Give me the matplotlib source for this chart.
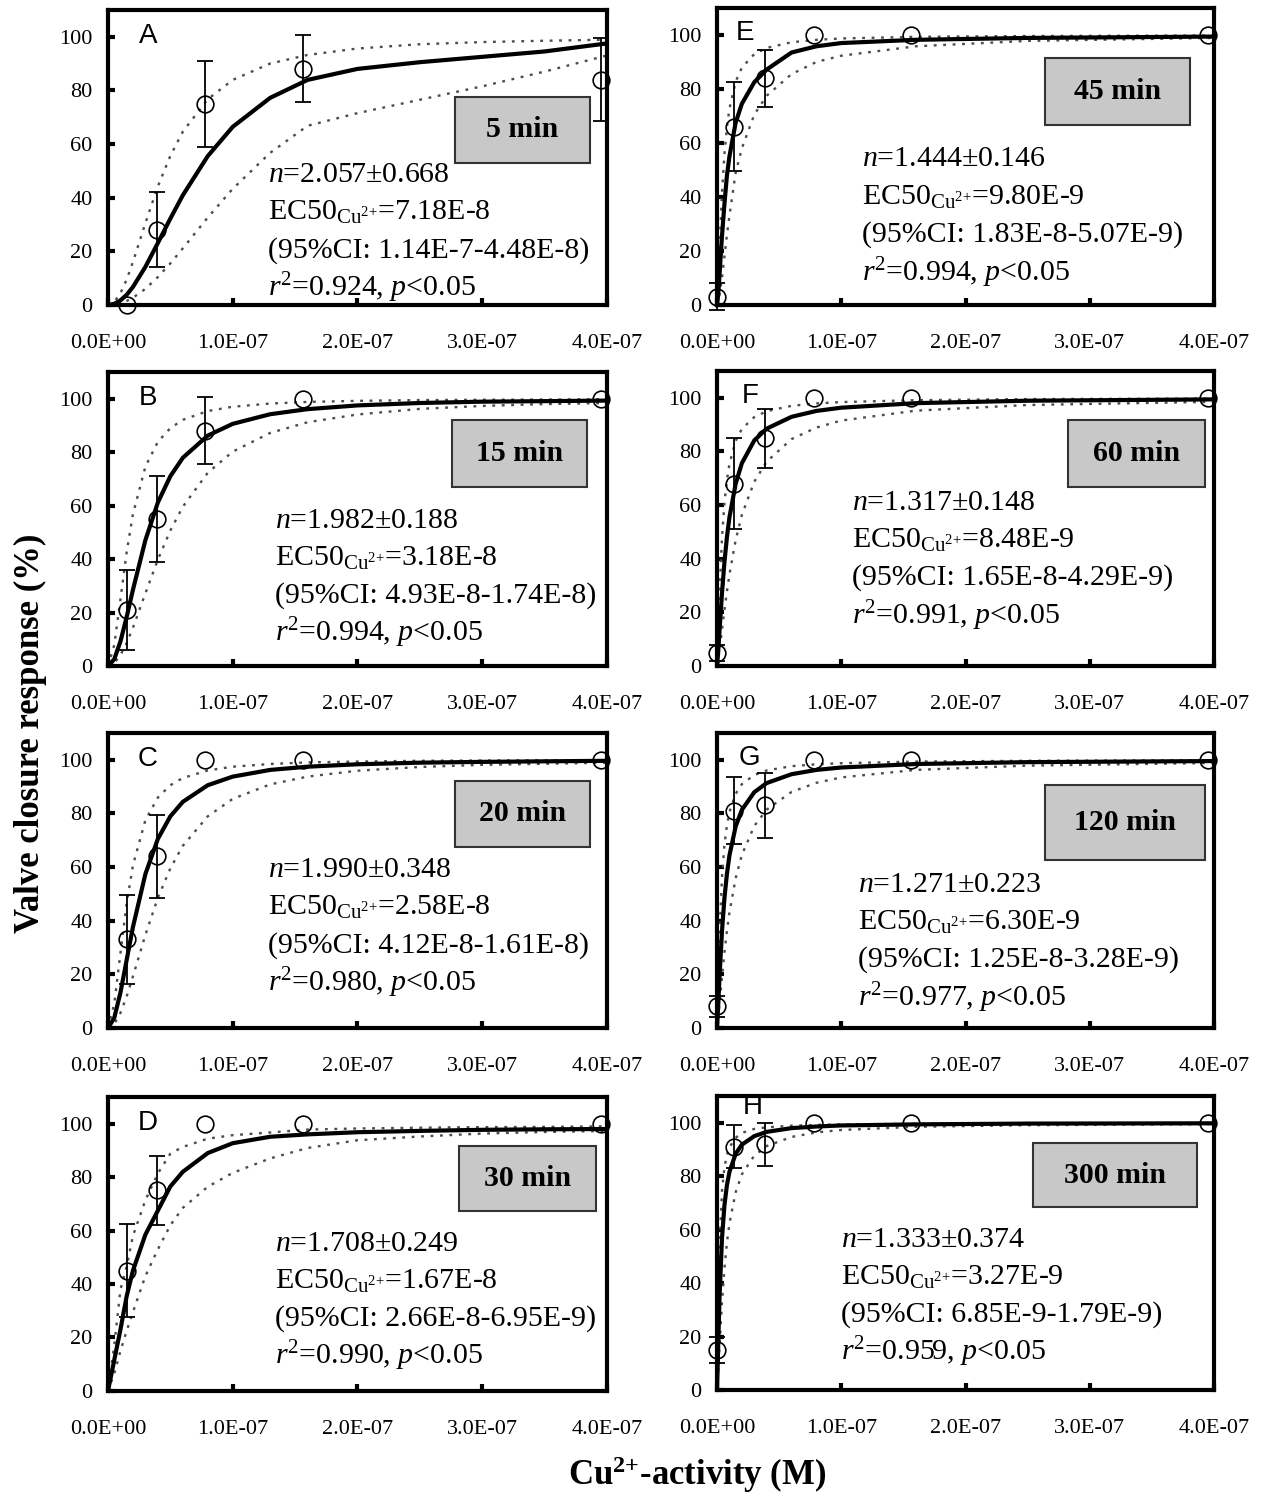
import numpy as np
import matplotlib
matplotlib.use('Agg')
import matplotlib.pyplot as plt
from matplotlib.patches import Rectangle
from matplotlib.ticker import FuncFormatter, MultipleLocator

plt.rcParams['font.family'] = ['Liberation Serif', 'DejaVu Serif']
plt.rcParams['mathtext.fontset'] = 'custom'
plt.rcParams['mathtext.rm'] = 'Liberation Serif'
plt.rcParams['mathtext.it'] = 'Liberation Serif:italic'
plt.rcParams['mathtext.bf'] = 'Liberation Serif:bold'

# ---- data (x in units of 1e-7 M) ----
panels = ['A', 'B', 'C', 'D', 'E', 'F', 'G', 'H']
times = ['5 min', '15 min', '20 min', '30 min', '45 min', '60 min', '120 min', '300 min']

x_left = [0.15, 0.39, 0.78, 1.56, 3.95]
x_right = [0.0, 0.14, 0.39, 0.78, 1.56, 3.95]

y_A = [0, 28, 75, 88, 84]
e_A = [0, 14, 16, 12.5, 15.5]
y_B = [21, 55, 88, 100, 100]
e_B = [15, 16, 12.5, 0, 0]
y_C = [33, 64, 100, 100, 100]
e_C = [16.5, 15.5, 0, 0, 0]
y_D = [45, 75, 100, 100, 100]
e_D = [17.5, 13, 0, 0, 0]
y_E = [3, 66, 84, 100, 100, 100]
e_E = [5, 16.5, 10.5, 0, 0, 0]
y_F = [5, 68, 85, 100, 100, 100]
e_F = [3, 17, 11, 0, 0, 0]
y_G = [8, 81, 83, 100, 100, 100]
e_G = [4, 12.5, 12, 0, 0, 0]
y_H = [15, 91, 92, 100, 100, 100]
e_H = [5, 8, 8, 0, 0, 0]

# fitted curves (solid fit, upper / lower 95% CI)
xc_left = [0, 0.05, 0.1, 0.15, 0.2, 0.3, 0.4, 0.5, 0.6, 0.8, 1.0, 1.3, 1.6, 2.0, 2.5, 3.0, 3.5, 4.0]
xc_right = [0, 0.01, 0.02, 0.04, 0.06, 0.08, 0.1, 0.15, 0.2, 0.3, 0.4, 0.6, 0.8, 1.0, 1.6, 2.5, 4.0]

fit_A = [0, 0.4, 1.7, 3.8, 6.7, 14.2, 23.1, 32.2, 40.9, 55.5, 66.4, 77.2, 83.9, 88, 90.5, 92.5, 94.5, 97.5]
up_A = [0, 1.1, 4.4, 9.5, 16.0, 30.5, 44.2, 55.6, 64.6, 76.7, 83.9, 90.0, 93.2, 95.6, 97.2, 98.0, 98.5, 98.9]
lo_A = [0, 0.2, 0.7, 1.5, 2.7, 6.0, 10.4, 15.5, 21.1, 32.6, 43.3, 56.7, 66.8, 71.5, 76.5, 81.5, 87, 93]

fit_B = [0, 2.5, 9.2, 18.4, 28.5, 47.1, 61.2, 71.0, 77.9, 86.2, 90.6, 94.2, 96.1, 97.5, 98.4, 98.9, 99.1, 99.3]
up_B = [0, 7.8, 25.0, 42.7, 56.8, 74.6, 83.9, 89.0, 92.1, 95.4, 97.0, 98.2, 98.8, 99.2, 99.5, 99.6, 99.7, 99.8]
lo_B = [0, 1.1, 4.1, 8.6, 14.3, 27.2, 39.8, 50.7, 59.6, 72.3, 80.2, 87.2, 91.2, 94.1, 96.2, 97.3, 98.0, 98.4]

fit_C = [0, 3.7, 13.2, 25.4, 37.6, 57.4, 70.5, 78.9, 84.3, 90.5, 93.7, 96.2, 97.4, 98.3, 98.9, 99.2, 99.4, 99.6]
up_C = [0, 8.9, 27.9, 46.5, 60.6, 77.5, 85.9, 90.5, 93.2, 96.0, 97.4, 98.4, 99.0, 99.3, 99.6, 99.7, 99.8, 99.8]
lo_C = [0, 1.5, 5.6, 11.8, 19.2, 34.7, 48.5, 59.5, 67.9, 78.9, 85.4, 90.8, 93.7, 95.9, 97.3, 98.1, 98.5, 98.9]

fit_D = [0, 11.5, 23, 35.5, 45, 58.5, 67.5, 76.5, 82, 89, 92.7, 95.1, 96, 96.8, 97.3, 97.7, 97.9, 98]
up_D = [0, 17, 38, 46.6, 58, 71.4, 81.4, 88.8, 91.3, 94.4, 95.7, 96.7, 97.8, 98.2, 98.5, 98.7, 98.8, 99]
lo_D = [0, 6.5, 15, 22.5, 29.5, 43, 53, 62, 68.5, 76.4, 81.6, 87, 90.9, 93.8, 95.2, 96.3, 96.9, 97.3]

fit_E = [0, 4, 11, 25.5, 37.5, 48, 55, 67.5, 74.5, 82.5, 87.2, 93.5, 95.8, 97, 98.2, 98.9, 99.4]
up_E = [0, 8.8, 20.7, 41.5, 56.0, 65.9, 72.7, 82.7, 87.9, 92.9, 95.2, 97.3, 98.2, 98.7, 99.3, 99.6, 99.8]
lo_E = [0, 1.5, 3.9, 10.0, 18, 26, 33, 49, 58, 70.5, 77.5, 85.5, 90, 92.3, 95.8, 97.8, 98.9]

fit_F = [0, 5.6, 13.0, 27.1, 38.8, 48.1, 55.4, 67.9, 75.6, 84.1, 88.5, 92.9, 95.1, 96.3, 98.0, 98.9, 99.4]
up_F = [0, 12.8, 26.8, 47.7, 60.9, 69.4, 75.3, 83.9, 88.4, 92.8, 95.0, 97.0, 97.9, 98.4, 99.1, 99.5, 99.7]
lo_F = [0, 2.4, 5.8, 13.4, 20.9, 27.8, 34.1, 46.9, 56.3, 68.7, 76.2, 84.6, 88.9, 91.5, 95.2, 97.3, 98.5]

fit_G = [0, 8.8, 18.9, 36.0, 48.5, 57.5, 64.3, 75.1, 81.3, 87.9, 91.3, 94.6, 96.2, 97.1, 98.4, 99.1, 99.5]
up_G = [0, 18.1, 34.8, 56.3, 68.3, 75.6, 80.5, 87.3, 90.9, 94.3, 96.0, 97.6, 98.3, 98.7, 99.3, 99.6, 99.8]
lo_G = [0, 3.9, 8.9, 19.0, 28.2, 36.2, 43.0, 55.8, 64.5, 75.3, 81.4, 88.0, 91.4, 93.4, 96.2, 97.8, 98.8]

fit_H = [0, 17.1, 34.2, 56.7, 69.2, 76.7, 81.6, 88.4, 91.8, 95.0, 96.6, 98.0, 98.6, 99.0, 99.4, 99.7, 99.8]
up_H = [0, 31.5, 53.7, 74.5, 83.4, 88.0, 90.8, 94.4, 96.2, 97.7, 98.3, 98.9, 99.2, 99.4, 99.6, 99.8, 99.9]
lo_H = [0, 7.1, 16.2, 32.8, 45.6, 55.2, 62.3, 74.0, 80.7, 87.7, 91.3, 94.7, 96.4, 97.3, 98.5, 99.1, 99.5]

n_txt = ['2.057', '1.982', '1.990', '1.708', '1.444', '1.317', '1.271', '1.333']
n_err = ['0.668', '0.188', '0.348', '0.249', '0.146', '0.148', '0.223', '0.374']
ec50 = ['7.18E-8', '3.18E-8', '2.58E-8', '1.67E-8', '9.80E-9', '8.48E-9', '6.30E-9', '3.27E-9']
ci = ['1.14E-7-4.48E-8', '4.93E-8-1.74E-8', '4.12E-8-1.61E-8', '2.66E-8-6.95E-9',
      '1.83E-8-5.07E-9', '1.65E-8-4.29E-9', '1.25E-8-3.28E-9', '6.85E-9-1.79E-9']
r2 = ['0.924', '0.994', '0.980', '0.990', '0.994', '0.991', '0.977', '0.959']

ys = [y_A, y_B, y_C, y_D, y_E, y_F, y_G, y_H]
es = [e_A, e_B, e_C, e_D, e_E, e_F, e_G, e_H]
fits = [fit_A, fit_B, fit_C, fit_D, fit_E, fit_F, fit_G, fit_H]
ups = [up_A, up_B, up_C, up_D, up_E, up_F, up_G, up_H]
los = [lo_A, lo_B, lo_C, lo_D, lo_E, lo_F, lo_G, lo_H]

# ---- layout (figure fractions) ----
ax_pos = {
    'A': [0.0855, 0.7967, 0.395, 0.1967], 'B': [0.0855, 0.556, 0.395, 0.196],
    'C': [0.0855, 0.3147, 0.395, 0.1967], 'D': [0.0855, 0.0727, 0.395, 0.196],
    'E': [0.5677, 0.7967, 0.3935, 0.198], 'F': [0.5677, 0.556, 0.3935, 0.1967],
    'G': [0.5677, 0.3147, 0.3935, 0.1967], 'H': [0.5677, 0.0733, 0.3935, 0.196],
}
box_pos = {
    'A': (0.695, 0.481, 0.271, 0.224), 'B': (0.689, 0.609, 0.271, 0.228),
    'C': (0.695, 0.614, 0.271, 0.223), 'D': (0.703, 0.612, 0.275, 0.221),
    'E': (0.660, 0.606, 0.292, 0.226), 'F': (0.706, 0.607, 0.276, 0.227),
    'G': (0.660, 0.569, 0.322, 0.255), 'H': (0.636, 0.622, 0.330, 0.218),
}
txt_pos = {
    'A': (0.32, 0.44), 'B': (0.335, 0.493), 'C': (0.32, 0.534), 'D': (0.335, 0.50),
    'E': (0.292, 0.49), 'F': (0.272, 0.553), 'G': (0.284, 0.485), 'H': (0.25, 0.51),
}
let_pos = {
    'A': (0.08, 0.91), 'B': (0.08, 0.91), 'C': (0.08, 0.91), 'D': (0.08, 0.91),
    'E': (0.056, 0.916), 'F': (0.066, 0.915), 'G': (0.066, 0.915), 'H': (0.072, 0.963),
}

fig = plt.figure(figsize=(12.63, 15), dpi=100)
sci = FuncFormatter(lambda v, p: '{:.1E}'.format(v))

for i, key in enumerate(panels):
    ax = fig.add_axes(ax_pos[key])
    left = i < 4
    xp = np.array(x_left if left else x_right) * 1e-7
    xc = np.array(xc_left if left else xc_right) * 1e-7

    ax.plot(xc, ups[i], color='0.3', lw=1.7, ls=(0, (1.2, 2.8)))
    ax.plot(xc, los[i], color='0.3', lw=1.7, ls=(0, (1.2, 2.8)))
    ax.plot(xc, fits[i], color='black', lw=3.0, solid_joinstyle='round')

    yerr = np.array(es[i])
    mask = yerr > 0
    ax.errorbar(xp[mask], np.array(ys[i])[mask], yerr=yerr[mask], fmt='none',
                ecolor='black', elinewidth=1.3, capsize=6, capthick=1.3, clip_on=False)
    ax.plot(xp, ys[i], 'o', mfc='none', mec='black', ms=12, mew=1.2, clip_on=False)

    ax.set_xlim(0, 4.0e-7)
    ax.set_ylim(0, 110)
    ax.xaxis.set_major_locator(MultipleLocator(1e-7))
    ax.xaxis.set_major_formatter(sci)
    ax.set_yticks([0, 20, 40, 60, 80, 100])
    ax.tick_params(direction='in', length=5, width=3, labelsize=16)
    ax.tick_params(axis='x', pad=21)
    ax.tick_params(axis='y', pad=11)
    for sp in ax.spines.values():
        sp.set_linewidth(3)

    bx, by, bw, bh = box_pos[key]
    ax.add_patch(Rectangle((bx, by), bw, bh, transform=ax.transAxes,
                           facecolor='#c8c8c8', edgecolor='#333333', lw=1.5, zorder=5))
    ax.text(bx + bw / 2, by + bh / 2, times[i], transform=ax.transAxes,
            ha='center', va='center', fontsize=21.5, fontweight='bold', zorder=6)

    tx, ty = txt_pos[key]
    dy = 0.127
    lines = [r'$n$=' + n_txt[i] + '\u00b1' + n_err[i],
             r'EC50$_{\mathregular{Cu}^{2{+}}}$=' + ec50[i],
             '(95%CI: ' + ci[i] + ')',
             r'$r^2$=' + r2[i] + r', $p$<0.05']
    for k, s in enumerate(lines):
        ax.text(tx, ty - k * dy, s, transform=ax.transAxes, ha='left', va='center',
                fontsize=21.5, zorder=6)

    lx, ly = let_pos[key]
    ax.text(lx, ly, key, transform=ax.transAxes, ha='center', va='center',
            fontsize=20, family=['Liberation Sans', 'DejaVu Sans'], zorder=6)

fig.text(0.024, 0.511, 'Valve closure response (%)', rotation=90, ha='center', va='center',
         fontsize=25, fontweight='bold')
fig.text(0.552, 0.0167, r'Cu$^{\mathbf{2}\mathbf{{+}}}$-activity (M)', ha='center', va='center',
         fontsize=25, fontweight='bold')

fig.savefig('out.png', dpi=100)
